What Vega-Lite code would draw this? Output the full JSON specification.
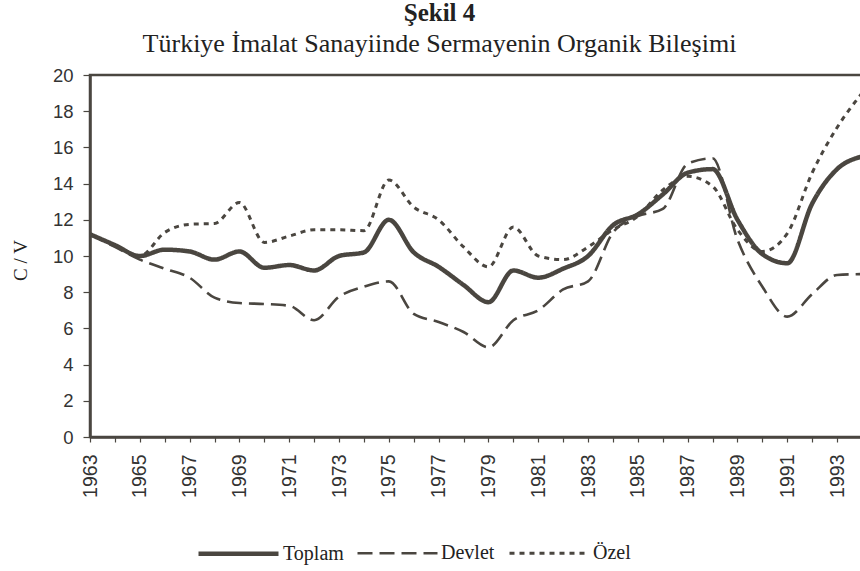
{
 "$schema": "https://vega.github.io/schema/vega-lite/v6.json",
 "autosize": "none",
 "width": 777,
 "height": 362,
 "padding": {"left": 90, "top": 75, "right": 0, "bottom": 134},
 "background": "white",
 "title": {"text": "Şekil 4", "subtitle": "Türkiye İmalat Sanayiinde Sermayenin Organik Bileşimi", "anchor": "middle", "frame": "group", "dx": -39, "font": "Liberation Serif", "fontSize": 25, "fontWeight": "bold", "color": "#222", "subtitleFont": "Liberation Serif", "subtitleFontSize": 26, "subtitleColor": "#222", "subtitlePadding": 5, "offset": 9},
 "datasets": {
  "d": [
   {"year":1963,"series":"Toplam","value":11.2},{"year":1964,"series":"Toplam","value":10.6},{"year":1965,"series":"Toplam","value":10.0},{"year":1966,"series":"Toplam","value":10.35},{"year":1967,"series":"Toplam","value":10.25},{"year":1968,"series":"Toplam","value":9.8},{"year":1969,"series":"Toplam","value":10.25},{"year":1970,"series":"Toplam","value":9.35},{"year":1971,"series":"Toplam","value":9.5},{"year":1972,"series":"Toplam","value":9.2},{"year":1973,"series":"Toplam","value":10.0},{"year":1974,"series":"Toplam","value":10.2},{"year":1975,"series":"Toplam","value":12.0},{"year":1976,"series":"Toplam","value":10.2},{"year":1977,"series":"Toplam","value":9.4},{"year":1978,"series":"Toplam","value":8.4},{"year":1979,"series":"Toplam","value":7.45},{"year":1980,"series":"Toplam","value":9.2},{"year":1981,"series":"Toplam","value":8.8},{"year":1982,"series":"Toplam","value":9.3},{"year":1983,"series":"Toplam","value":10.0},{"year":1984,"series":"Toplam","value":11.7},{"year":1985,"series":"Toplam","value":12.3},{"year":1986,"series":"Toplam","value":13.4},{"year":1987,"series":"Toplam","value":14.6},{"year":1988,"series":"Toplam","value":14.8},{"year":1989,"series":"Toplam","value":12.0},{"year":1990,"series":"Toplam","value":10.1},{"year":1991,"series":"Toplam","value":9.6},{"year":1992,"series":"Toplam","value":12.9},{"year":1993,"series":"Toplam","value":14.8},{"year":1994,"series":"Toplam","value":15.5},
   {"year":1963,"series":"Devlet","value":11.2},{"year":1964,"series":"Devlet","value":10.5},{"year":1965,"series":"Devlet","value":9.8},{"year":1966,"series":"Devlet","value":9.3},{"year":1967,"series":"Devlet","value":8.8},{"year":1968,"series":"Devlet","value":7.7},{"year":1969,"series":"Devlet","value":7.4},{"year":1970,"series":"Devlet","value":7.35},{"year":1971,"series":"Devlet","value":7.25},{"year":1972,"series":"Devlet","value":6.45},{"year":1973,"series":"Devlet","value":7.75},{"year":1974,"series":"Devlet","value":8.3},{"year":1975,"series":"Devlet","value":8.6},{"year":1976,"series":"Devlet","value":6.8},{"year":1977,"series":"Devlet","value":6.35},{"year":1978,"series":"Devlet","value":5.8},{"year":1979,"series":"Devlet","value":4.95},{"year":1980,"series":"Devlet","value":6.45},{"year":1981,"series":"Devlet","value":7.0},{"year":1982,"series":"Devlet","value":8.15},{"year":1983,"series":"Devlet","value":8.6},{"year":1984,"series":"Devlet","value":11.3},{"year":1985,"series":"Devlet","value":12.2},{"year":1986,"series":"Devlet","value":12.6},{"year":1987,"series":"Devlet","value":15.1},{"year":1988,"series":"Devlet","value":15.4},{"year":1989,"series":"Devlet","value":10.9},{"year":1990,"series":"Devlet","value":8.3},{"year":1991,"series":"Devlet","value":6.65},{"year":1992,"series":"Devlet","value":7.9},{"year":1993,"series":"Devlet","value":8.95},{"year":1994,"series":"Devlet","value":9.0},
   {"year":1963,"series":"Özel","value":11.2},{"year":1964,"series":"Özel","value":10.6},{"year":1965,"series":"Özel","value":10.0},{"year":1966,"series":"Özel","value":11.3},{"year":1967,"series":"Özel","value":11.75},{"year":1968,"series":"Özel","value":11.8},{"year":1969,"series":"Özel","value":12.95},{"year":1970,"series":"Özel","value":10.75},{"year":1971,"series":"Özel","value":11.1},{"year":1972,"series":"Özel","value":11.45},{"year":1973,"series":"Özel","value":11.45},{"year":1974,"series":"Özel","value":11.4},{"year":1975,"series":"Özel","value":14.2},{"year":1976,"series":"Özel","value":12.7},{"year":1977,"series":"Özel","value":12.0},{"year":1978,"series":"Özel","value":10.5},{"year":1979,"series":"Özel","value":9.4},{"year":1980,"series":"Özel","value":11.6},{"year":1981,"series":"Özel","value":10.0},{"year":1982,"series":"Özel","value":9.8},{"year":1983,"series":"Özel","value":10.5},{"year":1984,"series":"Özel","value":11.45},{"year":1985,"series":"Özel","value":12.2},{"year":1986,"series":"Özel","value":13.65},{"year":1987,"series":"Özel","value":14.4},{"year":1988,"series":"Özel","value":13.85},{"year":1989,"series":"Özel","value":11.45},{"year":1990,"series":"Özel","value":10.25},{"year":1991,"series":"Özel","value":11.25},{"year":1992,"series":"Özel","value":14.6},{"year":1993,"series":"Özel","value":17.1},{"year":1994,"series":"Özel","value":19.0}
  ]
 },
 "data": {"name": "d"},
 "mark": {"type": "line", "interpolate": "monotone", "color": "#4a4640", "clip": true},
 "encoding": {
  "x": {"field": "year", "type": "quantitative", "scale": {"domain": [1963, 1994.2], "nice": false, "zero": false},
   "axis": {"values": [1963,1964,1965,1966,1967,1968,1969,1970,1971,1972,1973,1974,1975,1976,1977,1978,1979,1980,1981,1982,1983,1984,1985,1986,1987,1988,1989,1990,1991,1992,1993], "format": "d", "labelExpr": "datum.value % 2 == 1 ? datum.label : ''", "labelAngle": -90, "labelAlign": "right", "labelBaseline": "middle", "labelFont": "Liberation Sans", "labelFontSize": 19.5, "labelColor": "#333", "tickColor": "#4a4640", "tickSize": 5, "tickWidth": 1.2, "domainColor": "#4a4640", "domainWidth": 2.5, "grid": false, "title": null, "labelPadding": 12, "labelOverlap": false, "labelFlush": false}},
  "y": {"field": "value", "type": "quantitative", "scale": {"domain": [0, 20], "nice": false},
   "axis": {"values": [0,2,4,6,8,10,12,14,16,18,20], "labelFont": "Liberation Sans", "labelFontSize": 18.5, "labelColor": "#333", "tickColor": "#4a4640", "tickSize": 7, "tickWidth": 1.2, "domainColor": "#4a4640", "domainWidth": 2.5, "grid": false, "labelPadding": 10, "title": "C / V", "titleFont": "Liberation Serif", "titleFontSize": 19, "titleFontWeight": "normal", "titleColor": "#222", "titleX": -70, "titleY": 185, "titleAngle": -90, "titleAlign": "center", "titleBaseline": "middle"}},
  "strokeDash": {"field": "series", "type": "nominal", "scale": {"domain": ["Toplam", "Devlet", "Özel"], "range": [[1, 0], [15, 7], [5, 5]]},
   "legend": {"orient": "none", "legendX": 106, "legendY": 436, "direction": "horizontal", "title": null, "symbolType": "stroke", "symbolSize": 6400, "symbolStrokeColor": "#4a4640", "labelFont": "Liberation Serif", "labelFontSize": 20, "labelColor": "#222", "labelOffset": 2, "columnPadding": 8}},
  "strokeWidth": {"field": "series", "type": "nominal", "scale": {"type": "ordinal", "domain": ["Toplam", "Devlet", "Özel"], "range": [4.5, 2.6, 3]},
   "legend": {"orient": "none", "legendX": 106, "legendY": 436, "direction": "horizontal", "title": null, "symbolType": "stroke", "symbolSize": 6400, "symbolStrokeColor": "#4a4640", "labelFont": "Liberation Serif", "labelFontSize": 20, "labelColor": "#222", "labelOffset": 2, "columnPadding": 8}}
 },
 "config": {"view": {"stroke": "#4a4640", "strokeWidth": 2.5}}
}
